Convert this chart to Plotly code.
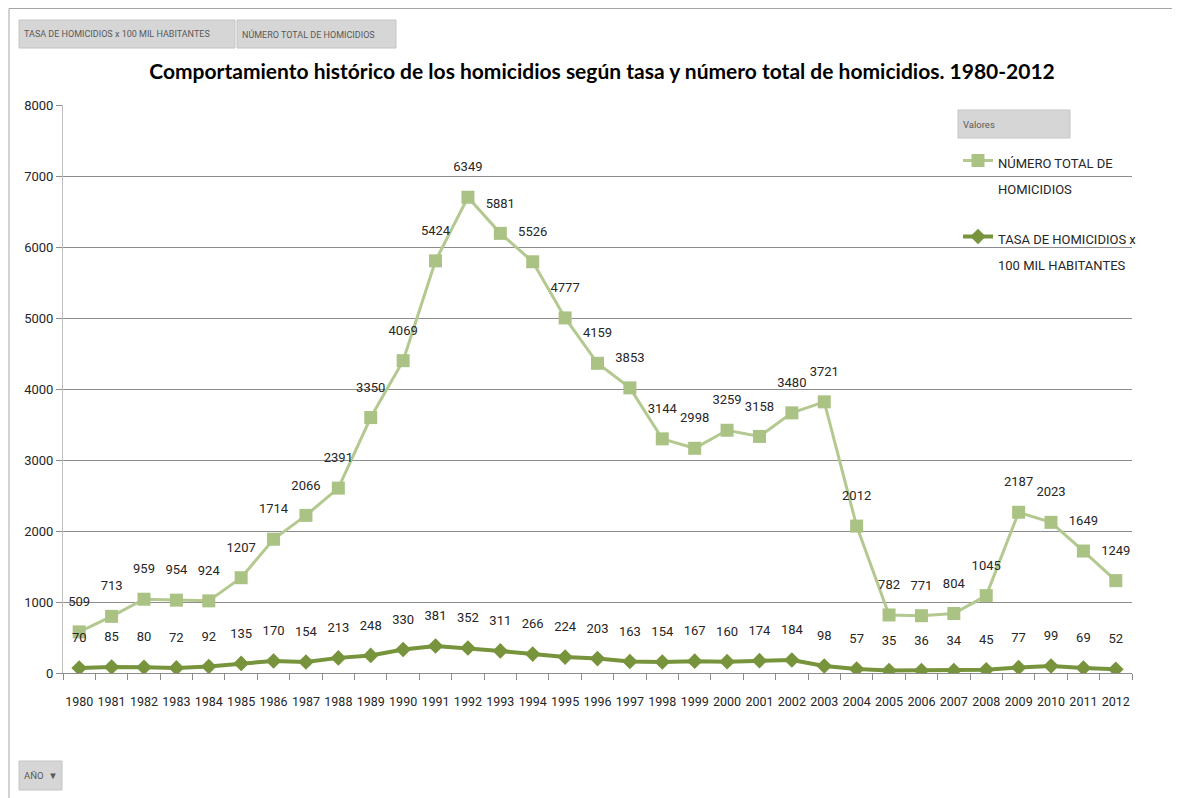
import plotly.graph_objects as go

years = [str(y) for y in range(1980, 2013)]
tasa = [70, 85, 80, 72, 92, 135, 170, 154, 213, 248, 330, 381, 352, 311, 266, 224,
        203, 163, 154, 167, 160, 174, 184, 98, 57, 35, 36, 34, 45, 77, 99, 69, 52]
total = [509, 713, 959, 954, 924, 1207, 1714, 2066, 2391, 3350, 4069, 5424, 6349,
         5881, 5526, 4777, 4159, 3853, 3144, 2998, 3259, 3158, 3480, 3721, 2012, 782,
         771, 804, 1045, 2187, 2023, 1649, 1249]

FONT = "Roboto, sans-serif"
OFF = 8                      # body margin of the html page
W, H = 1180 - OFF, 798 - OFF
# plot area in page pixels
PL, PR, PT, PB = 63, 1132, 105, 673

def px(x):
    return (x - PL) / (PR - PL)

def py(y):
    return (PB - y) / (PB - PT)

fig = go.Figure()
# data series (stacked, as in the Excel stacked line chart)
fig.add_trace(go.Scatter(
    x=years, y=tasa, name='<span style="font-size:13px">TASA DE HOMICIDIOS x<br>100 MIL HABITANTES</span>',
    legendgroup="tasa", legendrank=2,
    stackgroup="s", fill="none", mode="lines+markers",
    line=dict(color="#77933c", width=4),
    marker=dict(symbol="diamond", size=12, color="#77933c"),
    hoverinfo="x+text", text=[str(v) for v in tasa],
))
fig.add_trace(go.Scatter(
    x=years, y=total, name='<span style="font-size:13px">NÚMERO TOTAL DE<br>HOMICIDIOS</span>',
    legendgroup="total", legendrank=1,
    stackgroup="s", fill="none", mode="lines+markers",
    line=dict(color="#b3c98f", width=3),
    marker=dict(symbol="square", size=13, color="#aac283"),
    hoverinfo="x+text", text=[str(v) for v in total],
))
# data labels, placed above each point (same stacking, on an offset twin axis)
for vals in (tasa, total):
    fig.add_trace(go.Scatter(
        x=years, y=vals, yaxis="y2", stackgroup="lbl", fill="none", mode="text",
        text=[str(v) for v in vals], textposition="middle center",
        textfont=dict(family=FONT, size=13, color="#262626"),
        showlegend=False, hoverinfo="skip",
    ))

shapes = []
annotations = []

def button(x0, y0, x1, y1, label, size=9.5):
    shapes.append(dict(type="rect", xref="paper", yref="paper",
                       x0=px(x0), x1=px(x1), y0=py(y1), y1=py(y0),
                       fillcolor="#d6d6d6", line=dict(color="#c4c4c4", width=1),
                       layer="below"))
    annotations.append(dict(xref="paper", yref="paper", x=px(x0 + 3), y=py((y0 + y1) / 2),
                            xanchor="left", yanchor="middle", text=label, showarrow=False,
                            font=dict(family=FONT, size=size, color="#595959")))

# outer frame
shapes.append(dict(type="rect", xref="paper", yref="paper",
                   x0=px(9), x1=px(1178), y0=py(830), y1=py(8.5),
                   line=dict(color="#a6a6a6", width=1), fillcolor="rgba(0,0,0,0)", layer="below"))
button(19, 20, 235, 48, "TASA DE HOMICIDIOS x 100 MIL HABITANTES", 9)
button(237, 20, 396, 48, "NÚMERO TOTAL DE HOMICIDIOS", 9)
button(958, 110, 1070, 138, "Valores", 9.5)
button(19, 761, 62, 790, "AÑO  ▼", 9.5)

fig.update_layout(
    width=W, height=H,
    margin=dict(l=PL - OFF, r=W - (PR - OFF), t=PT - OFF, b=H - (PB - OFF)),
    paper_bgcolor="white", plot_bgcolor="white",
    font=dict(family=FONT, size=13, color="#404040"),
    title=dict(text="<b>Comportamiento histórico de los homicidios según tasa y número total de homicidios. 1980-2012</b>",
               x=(599 - OFF) / W, xanchor="center", xref="paper",
               y=1 - (72 - OFF) / H, yanchor="middle",
               font=dict(family="Lato, Noto Sans, sans-serif", size=21, color="#000000")),
    showlegend=True,
    legend=dict(x=px(958), y=py(141), xanchor="left", yanchor="top",
                traceorder="grouped", bgcolor="rgba(0,0,0,0)",
                font=dict(family=FONT, size=20, color="#262626"),
                tracegroupgap=21, valign="top"),
    shapes=shapes, annotations=annotations,
    xaxis=dict(type="category", range=[-0.5, len(years) - 0.5], autorange=False,
               showgrid=False, showline=True, linecolor="#8c8c8c",
               ticks="outside", tickson="boundaries", ticklen=6, tickcolor="#8c8c8c",
               ticklabelstandoff=17,
               tickfont=dict(family=FONT, size=12.5, color="#262626"), tickangle=0),
    yaxis=dict(range=[0, 8000], dtick=1000, showgrid=True, gridcolor="#8c8c8c",
               showline=True, linecolor="#bfbfbf", ticks="outside", ticklen=6,
               tickcolor="#8c8c8c", zeroline=False,
               tickfont=dict(family=FONT, size=13, color="#262626")),
    yaxis2=dict(range=[-410, 7590], overlaying="y", visible=False, showgrid=False),
)

fig.write_html("out.html")
